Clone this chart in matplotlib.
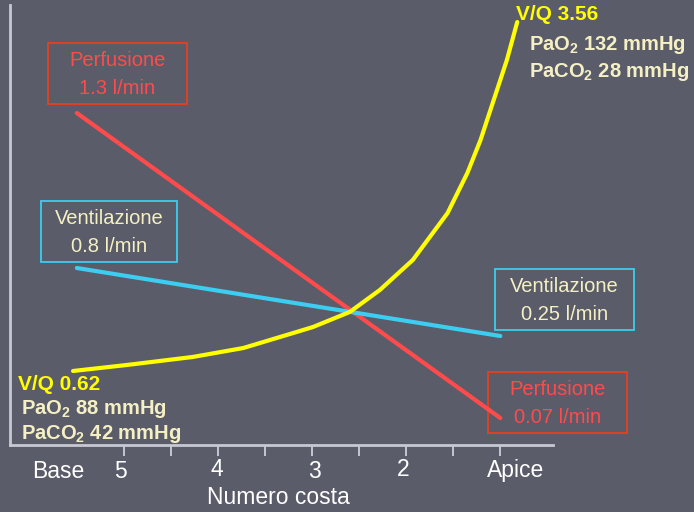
import matplotlib.pyplot as plt
from matplotlib.patches import Rectangle

plt.rcParams['font.family'] = ['Liberation Sans', 'DejaVu Sans']

# positions along the lung (rib number, 5 = base side, 1 = apex)
rib_ticks = [5, 4, 3, 2, 1]
rib_labels = ['5', '4', '3', '2', 'Apice']
minor_ticks = [4.5, 3.5, 2.5, 1.5]

# relative flow (arbitrary units)
line_x = [5.5, 1.0]
perfusione = [332, 27]
ventilazione = [177, 109]

vq_x = [5.54, 4.97, 4.27, 3.73, 3.20, 2.99, 2.60, 2.28, 1.93, 1.56, 1.35,
        1.21, 1.07, 0.93, 0.82]
vq_y = [74, 80, 88, 97, 112, 118, 133, 155, 185, 232, 272, 305, 345, 385, 423]

bg = '#5a5c6a'
cream = '#f5f0c4'
red = '#ff4b4b'
cyan = '#3ccdf0'
yellow = '#ffff00'

fig = plt.figure(figsize=(6.94, 5.12), dpi=100, facecolor=bg)
ax = fig.add_axes([10 / 694, 67 / 512, 543 / 694, 440 / 512])
ax.set_facecolor(bg)
ax.set_xlim(6.21, 0.44)
ax.set_ylim(0, 440)

ax.plot(line_x, perfusione, color=red, lw=3, solid_capstyle='round')
ax.plot(line_x, ventilazione, color=cyan, lw=3, solid_capstyle='round')
ax.plot(vq_x, vq_y, color=yellow, lw=3, solid_capstyle='round')

for s in ['top', 'right']:
    ax.spines[s].set_visible(False)
for s in ['left', 'bottom']:
    ax.spines[s].set_color('#c8c8d2')
    ax.spines[s].set_linewidth(2)

ax.set_yticks([])
ax.set_xticks(rib_ticks)
ax.set_xticks(minor_ticks, minor=True)
ax.set_xticklabels([])
ax.tick_params(axis='x', which='both', direction='out', length=8, width=1.2,
               color='#d8d8e0')

# tick labels placed by hand to follow the original offsets
label_dx = [0.04, 0.01, -0.03, 0.03, -0.16]
label_y = [-27, -25, -27, -25, -26]
for t, lab, dx, yy in zip(rib_ticks, rib_labels, label_dx, label_y):
    ax.text(t + dx, yy, lab, ha='center', va='center', fontsize=16.5,
            color='white', clip_on=False)
ax.text(5.70, -27, 'Base', ha='center', va='center', fontsize=16.5,
        color='white', clip_on=False)
ax.text(3.36, -52, 'Numero costa', ha='center', va='center', fontsize=16.5,
        color='white', clip_on=False)

def box(x, y, txt, tc, ec, w=1.48, h=61):
    ax.text(x, y - 1.5, txt, ha='center', va='center', fontsize=14.5, color=tc,
            linespacing=1.62, clip_on=False)
    ax.add_patch(Rectangle((x + w / 2, y - h / 2), -w, h, fill=False,
                           ec=ec, lw=1.3, clip_on=False))

box(5.07, 372, 'Perfusione\n1.3 l/min', red, '#e8401e')
box(5.16, 214, 'Ventilazione\n0.8 l/min', cream, cyan, w=1.45)
box(0.32, 146, 'Ventilazione\n0.25 l/min', cream, cyan)
box(0.39, 43, 'Perfusione\n0.07 l/min', red, '#e8401e')

# V/Q annotations
ax.text(0.83, 430, 'V/Q 3.56', ha='left', va='center', fontsize=15,
        fontweight='bold', color=yellow, clip_on=False)
ax.text(0.70, 400, r'PaO$_\mathregular{2}$ 132 mmHg', ha='left', va='center',
        fontsize=14.5, fontweight='bold', color=cream, clip_on=False)
ax.text(0.70, 373, r'PaCO$_\mathregular{2}$ 28 mmHg', ha='left', va='center',
        fontsize=14.5, fontweight='bold', color=cream, clip_on=False)

ax.text(6.13, 60, 'V/Q 0.62', ha='left', va='center', fontsize=15,
        fontweight='bold', color=yellow, clip_on=False)
ax.text(6.09, 36, r'PaO$_\mathregular{2}$ 88 mmHg', ha='left', va='center',
        fontsize=14.5, fontweight='bold', color=cream, clip_on=False)
ax.text(6.09, 11, r'PaCO$_\mathregular{2}$ 42 mmHg', ha='left', va='center',
        fontsize=14.5, fontweight='bold', color=cream, clip_on=False)

fig.savefig('out.png', dpi=100, facecolor=bg)
